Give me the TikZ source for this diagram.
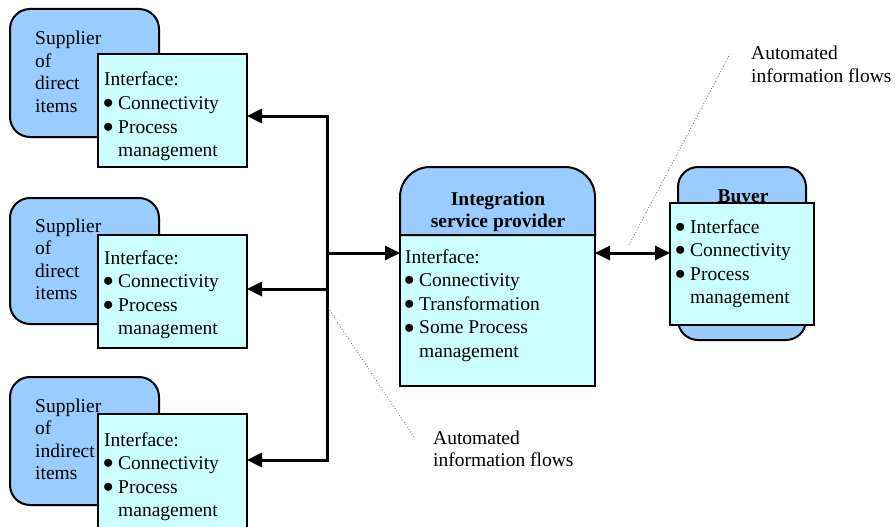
\documentclass[tikz,border=0pt]{standalone}
\usepackage{fontspec}
\setmainfont{Liberation Serif}
\usetikzlibrary{arrows.meta}
\definecolor{supblue}{RGB}{153,204,255}
\definecolor{ifcyan}{RGB}{204,255,255}
% bullet item and its hanging continuation line
\newcommand{\bul}{\raisebox{0.04em}{$\bullet$}}
\newcommand{\itm}[1]{\makebox[14pt][l]{\hspace*{-1pt}\bul}#1}
\newcommand{\cnt}[1]{\hspace*{14pt}#1}
\newcommand{\stack}[1]{\begin{tabular}[t]{@{}l@{}}#1\end{tabular}}
\newcommand{\cstack}[1]{\begin{tabular}[t]{@{}c@{}}#1\end{tabular}}
\begin{document}
\begin{tikzpicture}[x=1pt,y=-1pt,
  outerbox/.style={draw, line width=2pt, fill=supblue, rounded corners=20pt,
    anchor=north west, outer sep=0pt, inner sep=0pt},
  ifbox/.style={draw, line width=2pt, fill=ifcyan,
    anchor=north west, outer sep=0pt, inner sep=0pt},
  nametext/.style={inner sep=0pt, anchor=base west, font=\fontsize{19.5}{22.5}\selectfont},
  iftext/.style={inner sep=0pt, anchor=base west, font=\fontsize{19.5}{23.6}\selectfont},
  titletext/.style={inner sep=0pt, anchor=base, font=\fontsize{19.5}{22}\selectfont\bfseries},
  notetext/.style={inner sep=0pt, anchor=base west, font=\fontsize{19.5}{22}\selectfont},
  flow/.style={line width=3pt, -{Triangle[length=15pt,width=14pt]}},
  biflow/.style={line width=3pt, {Triangle[length=15pt,width=14pt]}-{Triangle[length=15pt,width=14pt]}},
  bus/.style={line width=3pt, line cap=rect},
  pointer/.style={draw=gray!80!black, dotted, line width=0.8pt}]
\useasboundingbox (0,0) rectangle (895,527);
\fill[white] (0,0) rectangle (895,527);

% supplier of direct items (top)
\node[outerbox, minimum width=149pt, minimum height=128pt] (sup1) at (10,9) {};
\node[nametext] (sup1t) at (35,45) {\stack{Supplier\\of\\direct\\items}};
\node[ifbox, minimum width=149pt, minimum height=113pt] (if1) at (98,54) {};
\node[iftext] (if1t) at (104,86) {\stack{Interface:\\\itm{Connectivity}\\\itm{Process}\\\cnt{management}}};

% supplier of direct items (middle)
\node[outerbox, minimum width=149pt, minimum height=126pt] (sup2) at (10,198) {};
\node[nametext] (sup2t) at (35,232) {\stack{Supplier\\of\\direct\\items}};
\node[ifbox, minimum width=149pt, minimum height=113pt] (if2) at (98,235) {};
\node[iftext] (if2t) at (104,264) {\stack{Interface:\\\itm{Connectivity}\\\itm{Process}\\\cnt{management}}};

% supplier of indirect items (bottom)
\node[outerbox, minimum width=149pt, minimum height=128pt] (sup3) at (10,377) {};
\node[nametext] (sup3t) at (35,412) {\stack{Supplier\\of\\indirect\\items}};
\node[ifbox, minimum width=149pt, minimum height=125pt] (if3) at (98,414) {};
\node[iftext] (if3t) at (104,446) {\stack{Interface:\\\itm{Connectivity}\\\itm{Process}\\\cnt{management}}};

% integration service provider
\node[ifbox, minimum width=195pt, minimum height=151pt] (isp) at (400,235) {};
\draw[line width=2pt, fill=supblue] (isp.north west) -- (400,197)
  arc[start angle=180, end angle=90, radius=30pt] -- (565,167)
  arc[start angle=90, end angle=0, radius=30pt] -- (isp.north east) -- cycle;
\node[titletext] (ispt) at (498,205) {\cstack{Integration\\service provider}};
\node[iftext] (ispi) at (405,263) {\stack{Interface:\\\itm{Connectivity}\\\itm{Transformation}\\\itm{Some Process}\\\cnt{management}}};

% buyer
\node[outerbox, minimum width=128pt, minimum height=173pt] (buy) at (678,167) {};
\node[titletext] (buyt) at (743,202) {Buyer};
\node[ifbox, minimum width=144pt, minimum height=122pt] (buyi) at (670,203) {};
\node[iftext] (buyit) at (676,233) {\stack{\itm{Interface}\\\itm{Connectivity}\\\itm{Process}\\\cnt{management}}};

% information flow connectors
\coordinate (j1) at (327,116);
\coordinate (jm) at (327,253);
\coordinate (j2) at (327,289);
\coordinate (j3) at (327,460);
\draw[bus] (j1) -- (j3);
\draw[flow] (j1) -- (j1 -| if1.east);
\draw[flow] (j2) -- (j2 -| if2.east);
\draw[flow] (j3) -- (j3 -| if3.east);
\draw[flow] (jm) -- (jm -| isp.west);
\draw[biflow] (jm -| isp.east) -- (jm -| buyi.west);

% callouts
\node[notetext] (lab1) at (433,444) {\stack{Automated\\information flows}};
\node[notetext] (lab2) at (751,60) {\stack{Automated\\information flows}};
\coordinate (p1a) at (328,308);
\coordinate (p1b) at (414,437);
\coordinate (p2a) at (629,245);
\coordinate (p2b) at (730,54);
\draw[pointer] (p1a) -- (p1b);
\draw[pointer] (p2a) -- (p2b);
\end{tikzpicture}
\end{document}
